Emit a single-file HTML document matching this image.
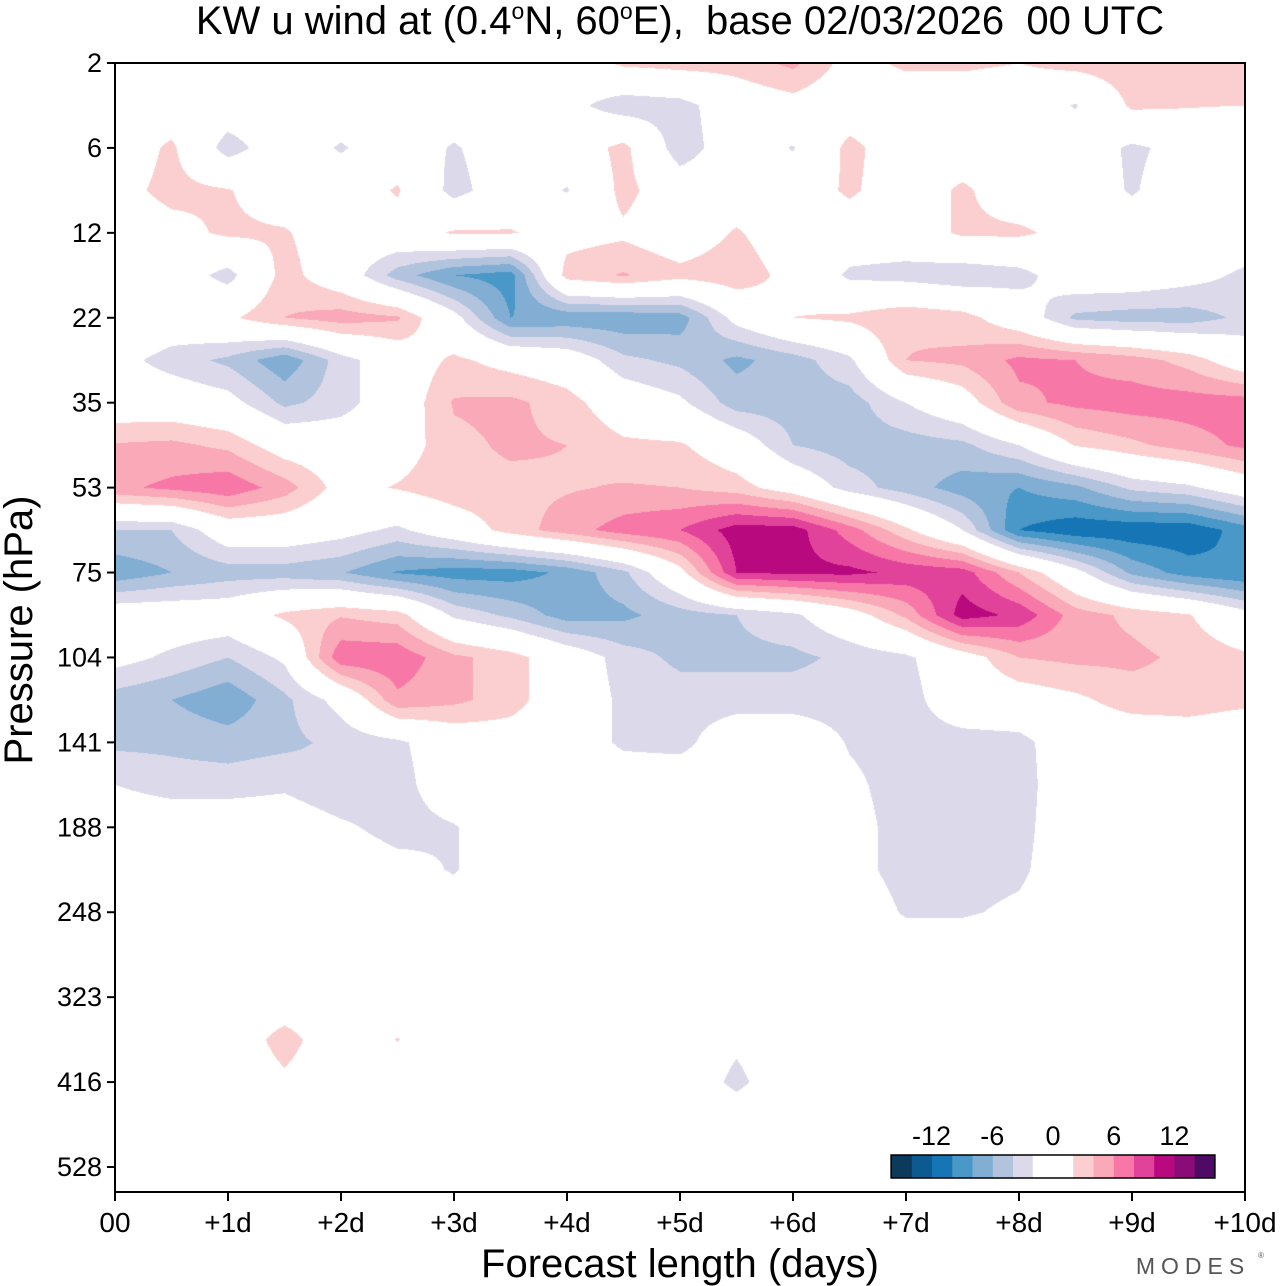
<!DOCTYPE html>
<html><head><meta charset="utf-8">
<style>
html,body{margin:0;padding:0;background:#fff;}
#wrap{position:relative;width:1280px;height:1286px;overflow:hidden;font-family:"Liberation Sans",sans-serif;}
#field{position:absolute;left:115px;top:63px;}
#ov{position:absolute;left:0;top:0;}
</style></head>
<body>
<div id="wrap">
<canvas id="field" width="1130" height="1129"></canvas>
<svg id="ov" width="1280" height="1286">
  <text x="680" y="34" text-anchor="middle" font-size="40" fill="#000" xml:space="preserve">KW u wind at (0.4<tspan dy="-15" font-size="23">o</tspan><tspan dy="15">N, 60</tspan><tspan dy="-15" font-size="23">o</tspan><tspan dy="15">E),  base 02/03/2026  00 UTC</tspan></text>
  <text transform="translate(32,630) rotate(-90)" text-anchor="middle" font-size="40" fill="#000">Pressure (hPa)</text>
  <text x="680" y="1277" text-anchor="middle" font-size="40" fill="#000">Forecast length (days)</text>
  <text x="1193" y="1274" text-anchor="middle" font-size="23" fill="#555" letter-spacing="6">MODES</text>
  <text x="1258" y="1258" font-size="8" fill="#555">®</text>
  <g id="yticks"></g>
  <g id="xticks"></g>
  <rect x="115" y="63" width="1130" height="1129" fill="none" stroke="#000" stroke-width="2"/>
  <g id="cbar"></g>
</svg>
</div>
<script>
const dayLabels = ["00","+1d","+2d","+3d","+4d","+5d","+6d","+7d","+8d","+9d","+10d"];
const pressureLabels = ["2","6","12","22","35","53","75","104","141","188","248","323","416","528"];
const colorbarTicks = [-12,-6,0,6,12];
const negColors = ['#dcdaea','#b2c3de','#82aed3','#4a98c7','#1676b5','#0c5a8f','#0b3a5a'];
const posColors = ['#fbcfcf','#f9a9b8','#f778a7','#e2439a','#b8097f','#8a0d77','#4e0a65'];
// u wind (m/s): rows = half pressure-label steps from 2 hPa downward, columns = 0.5 day steps
const uWind = [
[0,0,0,0,0,0,0,0,0,2.5,3,3,4.5,1,2.5,2.5,2,3,3.5,3,3],
[0,0,0,0,0,0,0,0,-1,-3.5,-3,0,1,0,0,0,0,-2.2,2.5,2.2,2],
[0,2.5,-3.2,0,-2.3,0,-2.3,0,0,2.8,-3.5,0,-2.2,2.8,0,0,0,0,-2.5,-1,-2],
[1,2.8,2.2,0,0,2.3,-3,0,-2.2,2.8,0,0,0,2.5,0,2.5,0,0,-2.3,0,0],
[0,1,2.5,2.3,0,0.5,2.3,2.2,1,1.5,0,2.3,0,0,0,2.5,2.5,1,0,0,0],
[0,0,-3,3,0,-5,-8,-9,3,4.2,2.8,3.5,1,-2.5,-3,-3.8,-3,0,0,-1,-2.5],
[1.5,0,1.5,4,5,4.3,-1,-8,-7.5,-7.5,-7,-1,2,2.5,3.8,3,0,-4.5,-5,-5,-3.5],
[-1,-3,-4.5,-7.5,-3,0,2.5,1,0,-3.5,-4.5,-6.5,-5,-2.5,4,4.5,6.5,6,5,3.2,0],
[0,0,-1,-4.5,-3,0,4.2,4.5,3,0,-1.5,-5,-5,-5,-2,0.5,5.5,6.5,7,7,7],
[4.2,4.5,3.5,0.5,0,0.5,3.5,4.3,4,2.5,2.3,0,-4,-5,-5,-4.5,-2,2.2,3.5,5,6.5],
[5.5,6.5,7.5,5,1,2.2,3.5,3.5,3.8,4.2,4,3,0.5,-3,-5,-7,-8,-6.5,-3.5,-2.5,0],
[-4,-4,0,0,-1,-2.5,0,3,5,7,8,11,11,7,2.5,-2,-10,-11.5,-11.5,-11.5,-9],
[-7.5,-6,-5,-5,-5.8,-8.2,-9,-9,-7.5,-4.5,1,10,10.5,10.5,9.5,9,4,-1,-6.5,-9,-10],
[0,0,0,2.5,3.8,3,-2.5,-4.5,-7,-6.5,-5,-4,-2.5,0.5,4.5,11,9.5,5,3.5,2.2,-1],
[-1,-2.5,-4,-1.5,7.5,7.5,4.5,3,0,-3,-4.5,-4.5,-4.5,-3.5,-2.5,0.5,4,4.5,4.5,3.5,2.5],
[-5,-6,-7.5,-4.5,-1,5.5,4.5,3,0,-2.5,-3,-3,-3,-3,-3,0,0.5,1.5,3,3,2.5],
[-4.5,-4.5,-5,-4.5,-3.5,-2.5,0,0.5,0,-2.5,-2.8,0,0,-2.2,-3,-3,-2.8,0,0,0.5,0],
[-2,-3,-3,-2.5,-4,-3,0,0,0,0,0,0,0,-1.5,-3,-3,-3,0,0,0,0],
[0,0,0,0,-1.5,-3,-2.2,0,0,0,0,0,0,-1,-3,-3,-2.8,0,0,0,0],
[0,0,0,0,0,-1,-2.2,0,0,0,0,0,0,-1,-3,-3,-2.5,0,0,0,0],
[0,0,0,0,0,0,-0.5,0,0,0,0,0,0,0,-2.3,-2.3,-1.5,0,0,0,0],
[0,0,0,0,0,0,0,0,0,0,0,0,0,0,0,0,0,0,0,0,0],
[0,0,0,0,0,0,0,0,0,0,0,0,0,0,0,0,0,0,0,0,0],
[0,0,0,3,0,2.1,0,0,0,0,0,-1.5,0,0,0,0,0,0,0,0,0],
[0,0,0,1.5,0,0,0,0,0,0,0,-2.6,0,0,0,0,0,0,0,0,0],
[0,0,0,0,0,0,0,0,0,0,0,0,0,0,0,0,0,0,0,0,0],
[0,0,0,0,0,0,0,0,0,0,0,0,0,0,0,0,0,0,0,0,0],
[0,0,0,0,0,0,0,0,0,0,0,0,0,0,0,0,0,0,0,0,0]
];

const PX0=115, PY0=63, PW=1130, PH=1129;
const dayStep = PW/10;
const levelStep = (1167-63)/13;
function xDay(d){ return PX0 + d*dayStep; }
function yLevel(i){ return PY0 + i*levelStep; }
function colorFor(v){
  if (v >= 2) return posColors[Math.min(Math.floor((v-2)/2),6)];
  if (v <= -2) return negColors[Math.min(Math.floor((-v-2)/2),6)];
  return null;
}
function hexRgb(h){ return [parseInt(h.slice(1,3),16),parseInt(h.slice(3,5),16),parseInt(h.slice(5,7),16)]; }

(function(){
  const cv=document.getElementById('field'); const ctx=cv.getContext('2d');
  const img=ctx.createImageData(PW,PH); const d=img.data;
  const nR=uWind.length, nC=uWind[0].length;
  const colStepPx = xDay(0.5)-xDay(0), rowStepPx = yLevel(0.5)-yLevel(0);
  for(let py=0;py<PH;py++){
    let ry=(py+0.5)/rowStepPx; let r0=Math.min(Math.floor(ry),nR-2); let fy=ry-r0;
    for(let px=0;px<PW;px++){
      let cx=(px+0.5)/colStepPx; let c0=Math.min(Math.floor(cx),nC-2); let fx=cx-c0;
      const v=(1-fy)*((1-fx)*uWind[r0][c0]+fx*uWind[r0][c0+1])+fy*((1-fx)*uWind[r0+1][c0]+fx*uWind[r0+1][c0+1]);
      const col=colorFor(v); const k=(py*PW+px)*4;
      let rgb=col?hexRgb(col):[255,255,255];
      d[k]=rgb[0];d[k+1]=rgb[1];d[k+2]=rgb[2];d[k+3]=255;
    }
  }
  ctx.putImageData(img,0,0);
})();

const NS='http://www.w3.org/2000/svg';
function mk(tag,attrs,parent){const e=document.createElementNS(NS,tag);for(const k in attrs)e.setAttribute(k,attrs[k]);parent.appendChild(e);return e;}

const yg=document.getElementById('yticks');
pressureLabels.forEach((lab,i)=>{
  const y=yLevel(i);
  const t=mk('line',{x1:107,x2:115,y1:y,y2:y,stroke:'#000','stroke-width':2},yg);
  
  
  const tx=mk('text',{x:102,y:y+9,'text-anchor':'end','font-size':27,fill:'#000'},yg);
  tx.textContent=lab;
  
  
});
const xg=document.getElementById('xticks');
dayLabels.forEach((lab,i)=>{
  const x=xDay(i);
  const t=mk('line',{x1:x,x2:x,y1:1192,y2:1201,stroke:'#000','stroke-width':2},xg);
  
  
  const tx=mk('text',{x:x,y:1232,'text-anchor':'middle','font-size':28,fill:'#000'},xg);
  tx.textContent=lab;
  
  
});
const cb=document.getElementById('cbar');
function xCb(v){ return 1053 + v*10.12; }
negColors.forEach((c,i)=>{
  const hi=-2-2*i, lo=hi-2;
  const r=mk('rect',{x:xCb(lo),y:1155,width:xCb(hi)-xCb(lo)+0.5,height:23,fill:c},cb);
  
  
});
{
  const r=mk('rect',{x:xCb(-2),y:1155,width:xCb(2)-xCb(-2),height:23,fill:'#fff'},cb);
  
  
}
posColors.forEach((c,i)=>{
  const lo=2+2*i, hi=lo+2;
  const r=mk('rect',{x:xCb(lo),y:1155,width:xCb(hi)-xCb(lo)+0.5,height:23,fill:c},cb);
  
  
});
{
  const r=mk('rect',{x:xCb(-16),y:1155,width:xCb(16)-xCb(-16),height:23,fill:'none',stroke:'#000','stroke-width':1.5},cb);
  
  
}
colorbarTicks.forEach(v=>{
  const tx=mk('text',{x:xCb(v),y:1145,'text-anchor':'middle','font-size':27,fill:'#000'},cb);
  tx.textContent=String(v);
  
  
});
</script>
</body></html>
